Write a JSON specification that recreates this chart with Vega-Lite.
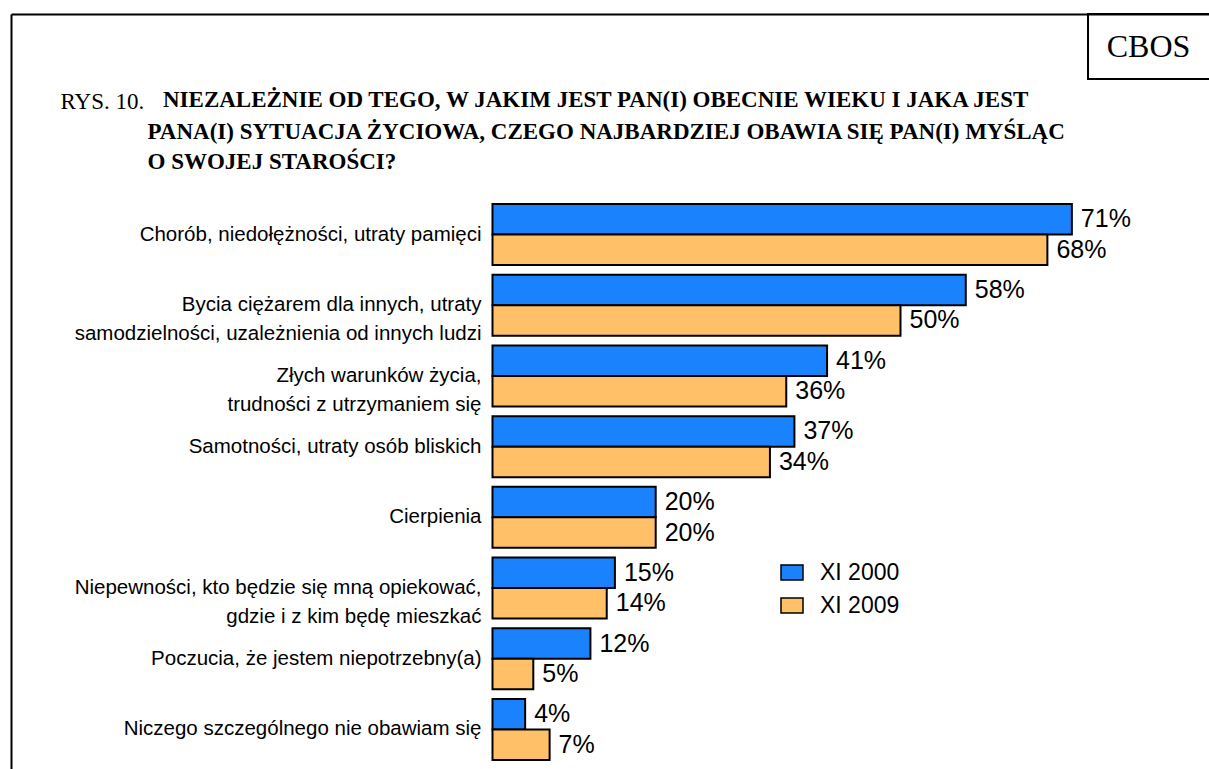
{
  "$schema": "https://vega.github.io/schema/vega-lite/v6.json",
  "autosize": {"type": "none"},
  "width": 1198,
  "height": 755,
  "padding": {"left": 11, "top": 14, "right": 0, "bottom": 0},
  "background": "white",
  "config": {
    "view": {"stroke": null},
    "text": {"color": "black"}
  },
  "title": {
    "text": "NIEZALEŻNIE OD TEGO, W JAKIM JEST PAN(I) OBECNIE WIEKU I JAKA JEST",
    "anchor": "start",
    "frame": "group",
    "orient": "top",
    "offset": 0,
    "dx": 152,
    "dy": 117,
    "font": "Liberation Serif",
    "fontSize": 23,
    "fontWeight": "bold",
    "color": "black",
    "baseline": "alphabetic"
  },
  "datasets": {
    "bars": [
      {"cat": "Chorób, niedołężności, utraty pamięci", "series": "XI 2000", "value": 0.71},
      {"cat": "Chorób, niedołężności, utraty pamięci", "series": "XI 2009", "value": 0.68},
      {"cat": "Bycia ciężarem dla innych, utraty\nsamodzielności, uzależnienia od innych ludzi", "series": "XI 2000", "value": 0.58},
      {"cat": "Bycia ciężarem dla innych, utraty\nsamodzielności, uzależnienia od innych ludzi", "series": "XI 2009", "value": 0.50},
      {"cat": "Złych warunków życia,\ntrudności z utrzymaniem się", "series": "XI 2000", "value": 0.41},
      {"cat": "Złych warunków życia,\ntrudności z utrzymaniem się", "series": "XI 2009", "value": 0.36},
      {"cat": "Samotności, utraty osób bliskich", "series": "XI 2000", "value": 0.37},
      {"cat": "Samotności, utraty osób bliskich", "series": "XI 2009", "value": 0.34},
      {"cat": "Cierpienia", "series": "XI 2000", "value": 0.20},
      {"cat": "Cierpienia", "series": "XI 2009", "value": 0.20},
      {"cat": "Niepewności, kto będzie się mną opiekować,\ngdzie i z kim będę mieszkać", "series": "XI 2000", "value": 0.15},
      {"cat": "Niepewności, kto będzie się mną opiekować,\ngdzie i z kim będę mieszkać", "series": "XI 2009", "value": 0.14},
      {"cat": "Poczucia, że jestem niepotrzebny(a)", "series": "XI 2000", "value": 0.12},
      {"cat": "Poczucia, że jestem niepotrzebny(a)", "series": "XI 2009", "value": 0.05},
      {"cat": "Niczego szczególnego nie obawiam się", "series": "XI 2000", "value": 0.04},
      {"cat": "Niczego szczególnego nie obawiam się", "series": "XI 2009", "value": 0.07}
    ],
    "badge": [{"name": "CBOS"}]
  },
  "resolve": {"scale": {"y": "independent"}},
  "layer": [
    {
      "data": {"name": "badge"},
      "layer": [
        {
          "mark": {"type": "rect", "fill": null, "stroke": "black", "strokeWidth": 2},
          "encoding": {
            "x": {"datum": 0.7298, "type": "quantitative", "scale": {"domain": [-0.59007, 0.87806], "zero": false, "nice": false}},
            "x2": {"datum": 0.9},
            "y": {"datum": 0, "type": "quantitative", "scale": {"domain": [0, 755], "reverse": true, "zero": false, "nice": false}, "axis": null},
            "y2": {"datum": 65}
          }
        },
        {
          "mark": {"type": "text", "font": "Liberation Serif", "fontSize": 32, "align": "center", "baseline": "middle", "color": "black"},
          "encoding": {
            "x": {"datum": 0.804, "type": "quantitative"},
            "y": {"datum": 32.5, "type": "quantitative"},
            "text": {"field": "name"}
          }
        }
      ]
    },
    {
      "data": {"name": "bars"},
      "layer": [
        {
          "mark": {"type": "bar", "stroke": "black", "strokeWidth": 2},
          "encoding": {
            "y": {
              "field": "cat", "type": "nominal", "sort": null,
              "scale": {"range": [190, 746], "paddingInner": 0.137, "paddingOuter": 0},
              "axis": {
                "orient": "left",
                "domain": false, "ticks": false, "labels": false, "grid": false,
                "title": "RYS. 10.", "titleAngle": 0, "titleX": 49, "titleY": 94,
                "titleAlign": "left", "titleBaseline": "alphabetic",
                "titleFont": "Liberation Serif", "titleFontSize": 23, "titleFontWeight": "normal", "titleColor": "black"
              }
            },
            "yOffset": {"field": "series", "type": "nominal", "scale": {"paddingInner": 0, "paddingOuter": 0}},
            "x": {
              "field": "value", "type": "quantitative",
              "scale": {"domain": [-0.59007, 0.87806], "zero": false, "nice": false},
              "axis": {
                "orient": "top", "domain": true, "domainColor": "black", "domainWidth": 2,
                "ticks": false, "labels": false, "grid": true, "values": [-0.59007],
                "gridColor": "black", "gridWidth": 2, "gridOpacity": 1,
                "title": ["PANA(I) SYTUACJA ŻYCIOWA, CZEGO NAJBARDZIEJ OBAWIA SIĘ PAN(I) MYŚLĄC", "O SWOJEJ STAROŚCI?"],
                "titleX": 136, "titleY": 124, "titleAlign": "left", "titleBaseline": "alphabetic", "titleAngle": 0,
                "titleLineHeight": 30,
                "titleFont": "Liberation Serif", "titleFontSize": 23, "titleFontWeight": "bold", "titleColor": "black"
              }
            },
            "x2": {"datum": 0},
            "color": {
              "field": "series", "type": "nominal",
              "scale": {"domain": ["XI 2000", "XI 2009"], "range": ["#1A82FC", "#FFC068"]},
              "legend": {
                "orient": "none", "legendX": 769, "legendY": 546.5, "title": null,
                "symbolType": "M-1,-0.68H1V0.68H-1Z", "symbolSize": 484,
                "symbolStrokeColor": "black", "symbolStrokeWidth": 1.5, "symbolOpacity": 1,
                "labelFont": "Liberation Sans", "labelFontSize": 23, "labelColor": "black",
                "labelOffset": 16, "rowPadding": 9, "padding": 0
              }
            }
          }
        },
        {
          "mark": {"type": "text", "align": "left", "baseline": "middle", "dx": 9, "font": "Liberation Sans", "fontSize": 25},
          "encoding": {
            "y": {"field": "cat", "type": "nominal", "sort": null},
            "yOffset": {"field": "series", "type": "nominal"},
            "x": {"field": "value", "type": "quantitative"},
            "text": {"field": "value", "type": "quantitative", "format": ".0%"}
          }
        },
        {
          "transform": [{"filter": "datum.series === 'XI 2000'"}],
          "mark": {"type": "text", "align": "right", "baseline": "middle", "dx": -11, "font": "Liberation Sans", "fontSize": 20.5, "lineBreak": "\n", "lineHeight": 29},
          "encoding": {
            "y": {"field": "cat", "type": "nominal", "sort": null},
            "x": {"datum": 0, "type": "quantitative"},
            "text": {"field": "cat"}
          }
        }
      ]
    }
  ]
}
